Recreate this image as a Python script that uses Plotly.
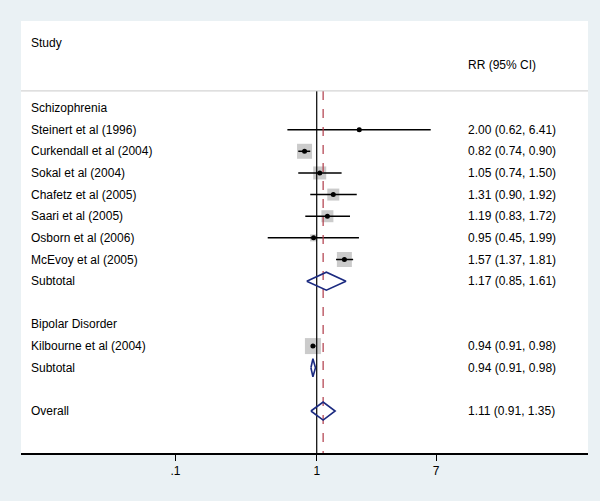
import plotly.graph_objects as go

# ---- data ----
row_labels = ["Schizophrenia", "Steinert et al (1996)", "Curkendall et al (2004)", "Sokal et al (2004)",
              "Chafetz et al (2005)", "Saari et al (2005)", "Osborn et al (2006)", "McEvoy et al (2005)",
              "Subtotal", "", "Bipolar Disorder", "Kilbourne et al (2004)", "Subtotal", "", "Overall"]

study_rows = [1, 2, 3, 4, 5, 6, 7, 11]
study_rr = [2.00, 0.82, 1.05, 1.31, 1.19, 0.95, 1.57, 0.94]
study_lo = [0.62, 0.74, 0.74, 0.90, 0.83, 0.45, 1.37, 0.91]
study_hi = [6.41, 0.90, 1.50, 1.92, 1.72, 1.99, 1.81, 0.98]
study_box = [4, 15, 13, 12, 12, 7, 15, 16]   # box size (weight)

pool_rows = [8, 12, 14]
pool_rr = [1.17, 0.94, 1.11]
pool_lo = [0.85, 0.91, 0.91]
pool_hi = [1.61, 0.98, 1.35]

tick_vals = [0.1, 1, 7]
tick_text = [".1", "1", "7"]

# ---- style ----
BG = "#eaf1f4"
NAVY = "#1b2a80"
FONT = "Liberation Sans, Arial, sans-serif"
Y_TOP, Y_BOT = -4.02, 15.94
LINE_Y = -0.79
DH = 0.416

fig = go.Figure()

# weight boxes
fig.add_trace(go.Scatter(x=study_rr, y=study_rows, mode="markers",
                         marker=dict(symbol="square", size=study_box, color="#b5b5b5", line=dict(width=0)),
                         hoverinfo="skip", showlegend=False))

# CI lines
cx, cy = [], []
for lo, hi, r in zip(study_lo, study_hi, study_rows):
    cx += [lo, hi, None]
    cy += [r, r, None]
fig.add_trace(go.Scatter(x=cx, y=cy, mode="lines", line=dict(color="black", width=1.5),
                         hoverinfo="skip", showlegend=False))

# point estimates
fig.add_trace(go.Scatter(x=study_rr, y=study_rows, mode="markers",
                         marker=dict(symbol="circle", size=5, color="black"),
                         hoverinfo="skip", showlegend=False))

# no-effect line and overall line
fig.add_trace(go.Scatter(x=[1, 1], y=[LINE_Y, Y_BOT], mode="lines",
                         line=dict(color="black", width=1.2), hoverinfo="skip", showlegend=False))
fig.add_trace(go.Scatter(x=[pool_rr[-1], pool_rr[-1]], y=[LINE_Y, Y_BOT], mode="lines",
                         line=dict(color="#b03a48", width=1.2, dash="dash"), hoverinfo="skip", showlegend=False))

# diamonds
for lo, est, hi, r in zip(pool_lo, pool_rr, pool_hi, pool_rows):
    fig.add_trace(go.Scatter(x=[lo, est, hi, est, lo], y=[r, r - DH, r, r + DH, r], mode="lines",
                             line=dict(color=NAVY, width=1.6), hoverinfo="skip", showlegend=False))

# gray separator line
fig.add_shape(type="line", xref="paper", x0=0, x1=1, yref="y", y0=LINE_Y, y1=LINE_Y,
              line=dict(color="#c9c9c9", width=1))

ann = []
LX = (29 - 21) / 567
RX = (466 - 21) / 567
ann.append(dict(x=LX, y=-3.0, text="Study"))
ann.append(dict(x=RX, y=-1.99, text="RR (95% CI)"))
for i, lab in enumerate(row_labels):
    if lab:
        ann.append(dict(x=LX, y=i, text=lab))
for r, est, lo, hi in zip(study_rows + pool_rows, study_rr + pool_rr, study_lo + pool_lo, study_hi + pool_hi):
    ann.append(dict(x=RX, y=r, text=f"{est:.2f} ({lo:.2f}, {hi:.2f})"))
for a in ann:
    a.update(xref="paper", yref="y", xanchor="left", yanchor="middle", showarrow=False,
             font=dict(family=FONT, size=12, color="black"))
fig.update_layout(annotations=ann)

fig.update_layout(
    width=600, height=501,
    margin=dict(l=21, r=12, t=21, b=48),
    paper_bgcolor=BG, plot_bgcolor="white",
    font=dict(family=FONT, size=12, color="black"),
    xaxis=dict(type="log", range=[-2.093, 1.920], tickvals=tick_vals, ticktext=tick_text,
               ticks="outside", ticklen=6, tickwidth=1.2, tickcolor="black",
               showline=True, linecolor="black", linewidth=1.6, showgrid=False, zeroline=False,
               tickfont=dict(family=FONT, size=12, color="black")),
    yaxis=dict(range=[Y_BOT, Y_TOP], showticklabels=False, showgrid=False, zeroline=False,
               showline=False, ticks=""),
    showlegend=False,
)

fig.write_html("out.html", config={"displayModeBar": False},
               post_script="document.body.style.margin='0px';document.body.style.padding='0px';"
                           "document.body.style.background='" + BG + "';")
